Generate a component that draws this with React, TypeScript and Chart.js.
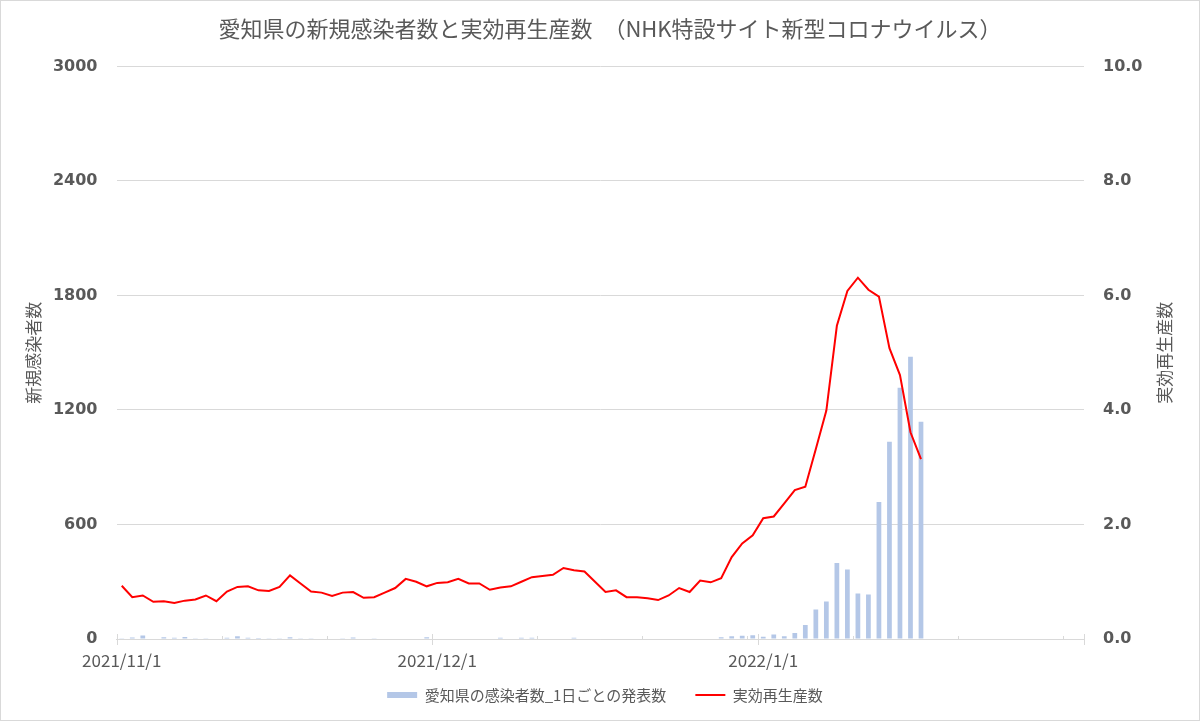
import React, { useEffect, useRef } from 'react';
import { Chart, registerables } from 'chart.js';

Chart.register(...registerables);

// 日付カテゴリ (2021/11/1 〜 2022/1/31)
const START_YEAR = 2021;
const START_MONTH = 11;
const DAY_COUNT = 92;

// 新規感染者数 (1日ごとの発表数)
const casesNov = [4, 8, 18, 3, 9, 7, 10, 4, 4, 3, 7, 15, 7, 5, 4, 4, 9, 4, 4, 3, 3, 4, 8, 3, 4, 3, 3, 3, 3, 9];
const casesDec = [3, 3, 3, 3, 3, 3, 7, 3, 7, 7, 3, 3, 3, 7, 3, 3, 3, 3, 3, 3, 3, 3, 3, 3, 3, 3, 3, 9, 14, 17, 19];
const casesJan = [12, 23, 14, 31, 73, 154, 197, 398, 364, 238, 233, 718, 1033, 1316, 1479, 1138];

// 実効再生産数
const rtNov = [0.93, 0.73, 0.76, 0.65, 0.66, 0.63, 0.67, 0.69, 0.76, 0.66, 0.83, 0.91, 0.92, 0.85, 0.84, 0.91, 1.11, 0.97, 0.83, 0.81, 0.75, 0.81, 0.82, 0.72, 0.73, 0.81, 0.89, 1.05, 1.0, 0.92];
const rtDec = [0.98, 0.99, 1.05, 0.97, 0.97, 0.86, 0.9, 0.92, 1.0, 1.08, 1.1, 1.12, 1.24, 1.2, 1.18, 1.0, 0.82, 0.85, 0.73, 0.73, 0.71, 0.68, 0.76, 0.89, 0.82, 1.02, 0.99, 1.06, 1.43, 1.67, 1.81];
const rtJan = [2.11, 2.14, 2.37, 2.6, 2.66, 3.32, 3.99, 5.47, 6.08, 6.31, 6.1, 5.98, 5.08, 4.61, 3.61, 3.14];

const TITLE = '愛知県の新規感染者数と実効再生産数　（NHK特設サイト新型コロナウイルス）';
const BAR_LABEL = '愛知県の感染者数_1日ごとの発表数';
const LINE_LABEL = '実効再生産数';
const LEFT_TITLE = '新規感染者数';
const RIGHT_TITLE = '実効再生産数';
const MINOR_TICK_STEP = 10;

const TEXT = '#595959';
const GRID = '#d9d9d9';
const JP = '"Noto Sans CJK JP", "Noto Sans", sans-serif';

const labels: string[] = [];
for (let i = 0; i < DAY_COUNT; i++) {
  const d = new Date(START_YEAR, START_MONTH - 1, 1 + i);
  labels.push(`${d.getFullYear()}/${d.getMonth() + 1}/${d.getDate()}`);
}
const isMonthStart = (i: number) => i >= DAY_COUNT || labels[i].split('/')[2] === '1';

const App = () => {
  const canvasRef = useRef<HTMLCanvasElement>(null);
  const chartRef = useRef<Chart | null>(null);

  useEffect(() => {
    document.body.style.margin = '0';
    if (!canvasRef.current) return;
    const ctx = canvasRef.current.getContext('2d');
    if (!ctx) return;
    if (chartRef.current) chartRef.current.destroy();

    chartRef.current = new Chart(ctx, {
      type: 'bar',
      data: {
        labels,
        datasets: [
          {
            type: 'bar',
            label: BAR_LABEL,
            data: [...casesNov, ...casesDec, ...casesJan],
            backgroundColor: '#b4c7e7',
            borderWidth: 0,
            barPercentage: 0.45,
            categoryPercentage: 1,
            yAxisID: 'y',
            order: 1,
            pointStyle: 'rect',
          } as any,
          {
            type: 'line',
            label: LINE_LABEL,
            data: [...rtNov, ...rtDec, ...rtJan],
            borderColor: '#ff0000',
            backgroundColor: '#ff0000',
            borderWidth: 2,
            pointRadius: 0,
            tension: 0,
            yAxisID: 'y1',
            order: 0,
            pointStyle: 'line',
          } as any,
        ],
      },
      options: {
        responsive: true,
        maintainAspectRatio: false,
        animation: false,
        layout: { padding: { left: 0, right: 0, top: 0, bottom: -10 } },
        plugins: {
          title: {
            display: true,
            text: TITLE,
            color: TEXT,
            font: { family: JP, size: 22, weight: 'normal' },
            padding: { top: 15, bottom: 25 },
          },
          legend: {
            position: 'bottom',
            labels: {
              usePointStyle: true,
              pointStyleWidth: 30,
              boxWidth: 30,
              boxHeight: 6,
              padding: 29,
              color: TEXT,
              font: { family: JP, size: 15 },
              sort: (a: any, b: any) => a.datasetIndex - b.datasetIndex,
            },
          },
          tooltip: { enabled: false },
        },
        scales: {
          x: {
            offset: true,
            grid: { display: false, drawTicks: false, offset: true },
            border: { display: true, color: GRID, width: 1 },
            ticks: {
              autoSkip: false,
              maxRotation: 0,
              minRotation: 0,
              padding: 11,
              color: TEXT,
              font: { family: JP, size: 17 },
              callback: (_v: any, i: number) => (isMonthStart(i) ? labels[i] : ''),
            },
            afterFit: (s: any) => { s.height = 38; },
          },
          y: {
            position: 'left',
            min: 0,
            max: 3000,
            ticks: {
              stepSize: 600,
              padding: 19,
              color: TEXT,
              font: { family: '"DejaVu Sans", sans-serif', size: 16, weight: 'bold' },
              callback: (v: any) => String(v),
            },
            grid: { color: GRID, drawTicks: false },
            border: { display: false },
            title: {
              display: true,
              text: LEFT_TITLE,
              color: TEXT,
              font: { family: JP, size: 17 },
              padding: { top: 23, bottom: 0 },
            },
            afterFit: (s: any) => { s.width = 116.5; },
          },
          y1: {
            position: 'right',
            min: 0,
            max: 10,
            ticks: {
              stepSize: 2,
              padding: 19,
              color: TEXT,
              font: { family: '"DejaVu Sans", sans-serif', size: 16, weight: 'bold' },
              callback: (v: any) => Number(v).toFixed(1),
            },
            grid: { drawOnChartArea: false, drawTicks: false },
            border: { display: false },
            afterFit: (s: any) => { s.width = 116; },
          },
        },
      },
      plugins: [
        {
          id: 'frame',
          // 凡例を軸ラベルの下に寄せ、タイトルと凡例を少し右へ
          afterLayout: (chart: any) => {
            const lg = chart.legend;
            if (lg) {
              const shift = lg.top - (chart.chartArea.bottom + 19.5);
              lg.top -= shift;
              lg.bottom -= shift;
              lg.left += 5;
              lg.right += 5;
            }
            const tb = chart.titleBlock;
            if (tb) {
              tb.left += 10;
              tb.right += 10;
            }
          },
          beforeDraw: (chart: any) => {
            const c = chart.ctx;
            c.save();
            c.fillStyle = '#ffffff';
            c.fillRect(0, 0, chart.width, chart.height);
            c.strokeStyle = GRID;
            c.lineWidth = 1;
            c.strokeRect(0.5, 0.5, chart.width - 1, chart.height - 1);
            c.restore();
          },
        },
        {
          id: 'dateTicks',
          afterDraw: (chart: any) => {
            const c = chart.ctx;
            const xs = chart.scales.x;
            const bottom = chart.chartArea.bottom;
            c.save();
            c.strokeStyle = GRID;
            c.lineWidth = 1;
            for (let i = 0; i <= DAY_COUNT; i++) {
              const major = isMonthStart(i);
              if (!major && i % MINOR_TICK_STEP !== 0) continue;
              const px = Math.round(xs.getPixelForValue(i - 0.5)) + 0.5;
              c.beginPath();
              c.moveTo(px, major ? bottom - 5 : bottom - 3);
              c.lineTo(px, major ? bottom + 6 : bottom + 1);
              c.stroke();
            }
            c.restore();
          },
        },
        {
          id: 'rightTitle',
          afterDraw: (chart: any) => {
            const c = chart.ctx;
            const area = chart.chartArea;
            c.save();
            c.translate(1165, (area.top + area.bottom) / 2);
            c.rotate(-Math.PI / 2);
            c.fillStyle = TEXT;
            c.font = `17px ${JP}`;
            c.textAlign = 'center';
            c.textBaseline = 'middle';
            c.fillText(RIGHT_TITLE, 0, 0);
            c.restore();
          },
        },
      ],
    });

    return () => {
      if (chartRef.current) {
        chartRef.current.destroy();
        chartRef.current = null;
      }
    };
  }, []);

  return (
    <div style={{ position: 'relative', width: '1200px', height: '721px' }}>
      <canvas ref={canvasRef} />
    </div>
  );
};

export default App;
